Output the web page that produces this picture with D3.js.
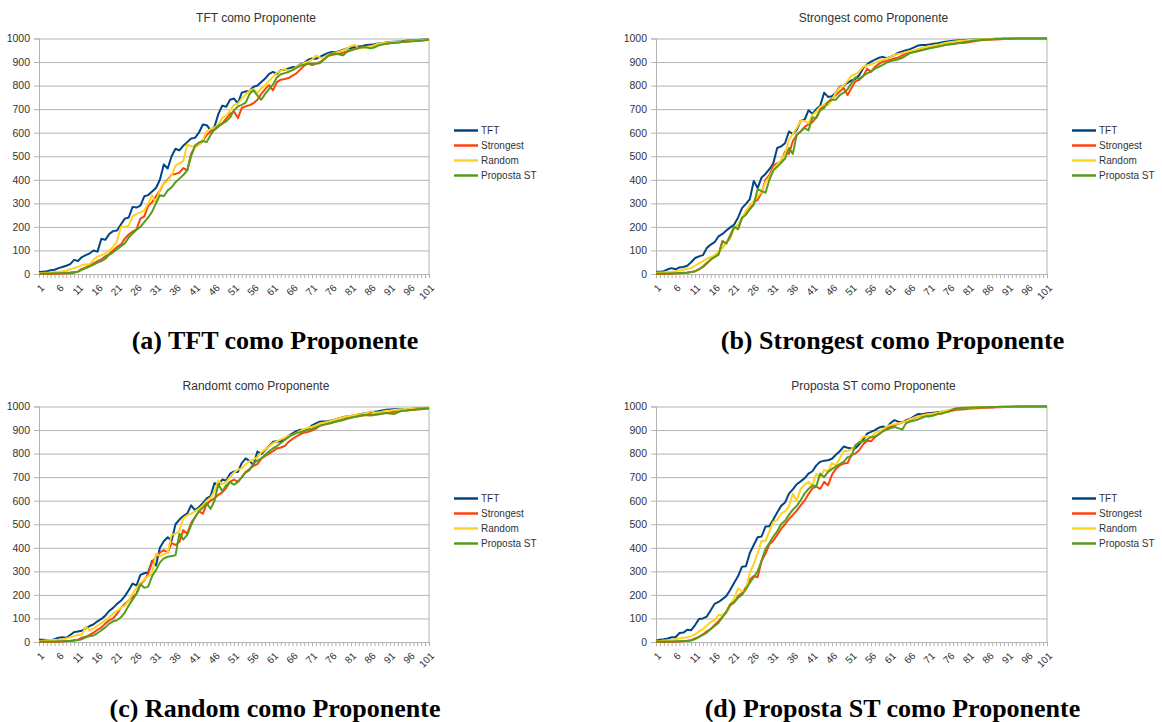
<!DOCTYPE html>
<html>
<head>
<meta charset="utf-8">
<script src="https://cdn.jsdelivr.net/npm/d3@7"></script>
<style>
  body { margin: 0; background: #fff; }
  svg { display: block; }
</style>
</head>
<body>
<svg id="chart" width="1162" height="722"></svg>
<script>
// Rounds on the category axis and the labels shown on it
const rounds = d3.range(1, 102);
const tickRounds = [1, 6, 11, 16, 21, 26, 31, 36, 41, 46, 51, 56, 61, 66, 71, 76, 81, 86, 91, 96, 101];
const yTicks = [0, 100, 200, 300, 400, 500, 600, 700, 800, 900, 1000];

const seriesNames = ["TFT", "Strongest", "Random", "Proposta ST"];
const seriesColors = ["#004586", "#ff420e", "#ffd320", "#579d1c"];

const panelTitles = ["TFT como Proponente", "Strongest como Proponente", "Randomt como Proponente", "Proposta ST como Proponente"];
const panelCaptions = ["(a) TFT como Proponente", "(b) Strongest como Proponente", "(c) Random como Proponente", "(d) Proposta ST como Proponente"];

// (a) TFT como Proponente
const tftProp_TFT = [8,10,12,16,18,25,30,35,42,60, 55,72,80,88,100,95,150,145,170,182, 185,210,235,240,285,282,290,330,335,350, 365,400,465,448,500,532,525,545,560,575, 578,600,635,632,610,625,680,715,710,740,
  745,725,770,775,778,795,800,815,830,850, 858,850,865,868,873,878,880,890,896,910, 915,914,922,930,938,943,942,946,952,958, 960,964,966,968,972,974,976,979,980,983, 985,986,987,988,990,991,992,994,995,996, 996];
const tftProp_Strongest = [0,0,0,0,1,1,2,2,3,5, 10,22,28,38,45,55,62,75,85,100, 115,125,150,168,180,190,235,245,290,305, 330,355,385,400,422,425,430,450,440,510, 540,550,565,590,605,612,625,640,660,680,
  690,662,705,712,717,725,740,765,785,802, 780,815,825,828,832,842,852,868,885,894, 887,893,900,910,925,930,933,936,940,945, 950,956,960,962,965,967,969,972,975,978, 981,982,983,985,986,988,990,992,993,995, 996];
const tftProp_Random = [3,4,5,6,8,10,12,15,20,25, 30,38,40,42,60,75,80,88,100,115, 140,200,200,205,245,255,262,270,300,335, 300,360,385,395,420,460,470,480,550,542, 540,550,570,605,615,622,635,665,670,695,
  718,724,745,762,780,785,768,788,800,820, 837,855,862,873,860,868,880,888,895,902, 910,928,920,915,930,936,940,944,950,958, 968,972,958,960,964,966,972,978,980,982, 984,986,986,986,987,988,990,992,993,995, 996];
const tftProp_PropostaST = [2,2,2,2,3,3,4,5,6,8, 10,18,25,32,40,48,55,65,82,92, 105,118,130,155,172,188,200,220,240,265, 300,335,330,355,368,390,405,420,440,500, 545,558,565,560,590,615,630,638,648,665,
  695,712,718,728,765,780,758,740,765,785, 805,835,848,853,858,866,875,884,889,894, 893,894,895,910,925,936,936,932,929,945, 950,955,960,964,962,958,962,970,974,978, 980,982,983,985,986,987,988,989,990,993, 996];

// (b) Strongest como Proponente
const strongProp_TFT = [10,10,12,20,25,20,28,30,35,50, 68,75,80,110,125,135,160,170,185,198, 210,240,280,298,318,395,365,410,425,445, 470,535,542,555,605,595,612,650,655,695, 680,700,715,770,752,755,770,795,800,812,
  822,828,845,875,890,902,910,918,922,916, 922,930,940,945,950,955,962,970,972,972, 975,978,980,983,986,988,990,992,993,994, 995,996,996,997,997,998,998,999,999,1000, 1000,1000,1000,1000,1000,1000,1000,1000,1000,1000, 1000];
const strongProp_Strongest = [0,0,0,0,1,2,3,4,5,8, 12,20,30,45,60,78,85,140,130,165, 200,190,240,255,285,305,315,345,400,420, 460,470,478,520,510,565,590,605,625,635, 645,665,700,715,730,745,760,775,790,760,
  790,818,825,840,872,858,880,892,902,905, 910,915,920,928,936,940,944,948,952,957, 960,965,970,972,974,976,978,980,981,982, 984,987,990,993,994,995,996,996,997,998, 998,999,999,999,1000,1000,1000,1000,1000,1000, 1000];
const strongProp_Random = [5,6,7,9,10,12,15,18,22,25, 35,45,55,65,72,80,95,110,135,150, 195,210,240,268,290,310,330,350,390,412, 445,465,485,510,570,595,620,650,650,640, 675,690,710,720,716,740,770,792,800,820,
  842,848,860,880,886,890,896,905,910,915, 922,930,934,938,943,947,950,956,960,964, 967,970,973,977,981,984,986,988,990,992, 994,996,996,997,997,998,998,999,999,1000, 1000,1000,1000,1000,1000,1000,1000,1000,1000,1000, 1000];
const strongProp_PropostaST = [2,2,2,2,3,3,4,5,6,8, 12,20,32,48,62,72,82,138,130,160, 200,192,238,252,275,295,360,352,345,400, 440,455,472,490,535,510,592,605,620,610, 665,662,695,705,730,740,740,760,770,785,
  810,835,830,842,852,860,872,880,888,898, 904,908,912,918,928,938,943,946,950,954, 958,962,965,968,972,975,977,980,982,985, 987,990,992,994,995,996,997,998,998,999, 999,999,1000,1000,1000,1000,1000,1000,1000,1000, 1000];

// (c) Random como Proponente
const randProp_TFT = [10,10,9,8,12,18,20,18,30,42, 45,48,58,68,75,88,98,112,132,145, 162,175,195,220,248,240,285,292,295,345, 325,400,428,445,430,500,520,535,545,580, 560,572,590,610,620,675,665,690,685,715,
  724,722,760,780,768,752,809,798,815,832, 850,852,851,865,875,886,895,901,900,905, 920,928,936,936,937,941,945,950,955,958, 960,963,966,969,972,975,978,980,983,986, 987,988,988,987,986,988,990,992,993,993, 993];
const randProp_Strongest = [0,0,0,0,0,1,2,3,5,8, 10,18,22,30,40,52,62,78,92,100, 120,145,162,175,192,205,245,262,290,340, 360,380,390,380,420,412,425,475,460,505, 530,555,545,585,600,610,625,635,655,680,
  690,680,700,722,735,748,755,778,790,800, 810,822,826,832,850,862,873,882,889,892, 898,906,918,924,929,932,936,940,945,950, 953,956,959,962,965,966,967,969,970,972, 975,978,980,982,983,984,986,987,988,990, 993];
const randProp_Random = [3,5,7,8,9,10,12,15,20,25, 30,32,65,50,58,70,80,92,105,120, 132,145,155,175,205,230,250,265,280,290, 375,365,372,380,455,460,472,525,538,545, 555,565,580,600,612,640,685,670,680,700,
  720,732,738,755,768,775,785,805,818,830, 844,852,860,868,875,880,888,896,904,910, 914,920,928,931,934,940,945,950,954,958, 961,964,966,968,972,980,975,974,978,982, 983,985,986,987,988,989,990,992,993,995, 996];
const randProp_PropostaST = [2,2,2,2,2,3,3,4,4,5, 8,12,20,25,28,38,50,62,78,88, 92,105,125,155,180,205,245,230,235,280, 305,338,355,362,365,368,460,435,455,495, 530,555,570,590,565,600,670,640,665,680,
  668,680,700,720,730,760,770,780,795,810, 822,832,845,858,870,880,887,891,895,900, 905,911,918,922,926,930,935,938,943,948, 952,956,960,964,963,962,964,966,970,972, 970,968,975,982,983,985,986,988,990,993, 993];

// (d) Proposta ST como Proponente
const pstProp_TFT = [5,10,12,15,20,20,38,40,52,50, 72,98,100,108,135,162,170,182,195,222, 252,280,320,322,378,412,445,448,490,492, 520,550,578,592,630,648,670,682,695,715, 725,750,765,770,772,778,795,810,830,825,
  822,823,840,860,885,892,900,910,915,910, 930,942,935,932,942,948,958,968,967,970, 972,974,976,978,980,982,986,992,993,993, 994,995,995,996,996,997,997,998,998,998, 999,999,999,1000,1000,1000,1000,1000,1000,1000, 1000];
const pstProp_Strongest = [0,0,0,0,0,1,2,3,5,8, 15,22,32,45,55,72,88,108,125,155, 168,195,208,232,265,280,275,345,375,415, 430,455,480,500,522,540,558,580,600,628, 652,660,650,680,665,710,735,750,758,760,
  795,800,815,840,855,852,870,882,895,908, 915,920,926,933,938,943,950,958,960,963, 965,967,968,970,975,980,983,986,987,988, 990,991,993,994,995,996,996,997,997,998, 998,998,999,999,1000,1000,1000,1000,1000,1000, 1000];
const pstProp_Random = [3,4,6,7,9,12,15,18,20,25, 32,45,55,70,85,92,115,115,128,160, 185,228,215,222,295,330,378,430,428,470, 510,518,545,555,575,630,600,650,668,680, 665,715,700,730,725,760,750,780,810,812,
  818,835,850,872,875,870,887,894,902,915, 922,925,928,932,938,946,952,958,962,966, 968,970,973,978,982,985,989,993,994,995, 996,996,997,997,997,998,998,998,999,999, 999,999,1000,1000,1000,1000,1000,1000,1000,1000, 1000];
const pstProp_PropostaST = [2,2,2,2,2,3,3,4,4,6, 12,22,30,40,55,68,82,105,130,160, 170,188,200,225,252,275,300,345,395,420, 448,470,500,515,540,562,578,602,630,650, 665,662,715,700,722,735,745,755,765,785,
  790,835,848,852,860,870,873,882,895,902, 908,913,908,902,930,936,940,945,952,958, 958,962,968,970,975,980,988,993,994,995, 995,996,996,997,997,998,998,998,999,999, 999,999,1000,1000,1000,1000,1000,1000,1000,1000, 1000];

const panelSeries = [
  [tftProp_TFT, tftProp_Strongest, tftProp_Random, tftProp_PropostaST],
  [strongProp_TFT, strongProp_Strongest, strongProp_Random, strongProp_PropostaST],
  [randProp_TFT, randProp_Strongest, randProp_Random, randProp_PropostaST],
  [pstProp_TFT, pstProp_Strongest, pstProp_Random, pstProp_PropostaST]
];

// Plot-area frames for the 2x2 grid
const frames = [
  { left: 39,  right: 429,  top: 38.5,  bottom: 274 },
  { left: 656, right: 1047, top: 38.5,  bottom: 274 },
  { left: 39,  right: 429,  top: 406.5, bottom: 642 },
  { left: 656, right: 1047, top: 406.5, bottom: 642 }
];

const svg = d3.select("#chart");
const sans = "'Liberation Sans', Arial, sans-serif";
const textColor = "#333333";
const gridColor = "#b3b3b3";

frames.forEach((f, p) => {
  const g = svg.append("g");
  const x = d3.scalePoint().domain(rounds).range([f.left, f.right]);
  const y = d3.scaleLinear().domain([0, 1000]).range([f.bottom, f.top]);

  // horizontal grid
  g.append("g")
    .attr("transform", `translate(${f.left},0)`)
    .call(d3.axisLeft(y).tickValues(yTicks).tickSize(-(f.right - f.left)).tickFormat(""))
    .call(s => s.select(".domain").remove())
    .call(s => s.selectAll("line").attr("stroke", gridColor).attr("stroke-width", 1));

  // right frame edge
  g.append("line")
    .attr("x1", f.right).attr("x2", f.right)
    .attr("y1", y(1000)).attr("y2", y(0))
    .attr("stroke", gridColor);

  // y axis
  g.append("g")
    .attr("transform", `translate(${f.left},0)`)
    .call(d3.axisLeft(y).tickValues(yTicks).tickSize(5).tickPadding(4).tickFormat(d3.format("d")))
    .call(s => s.select(".domain").attr("stroke", gridColor))
    .call(s => s.selectAll(".tick line").attr("stroke", gridColor))
    .call(s => s.selectAll("text").attr("fill", textColor)
      .style("font-family", sans).style("font-size", "10.5px"));

  // x axis: a tick on every round, a label on every fifth
  g.append("g")
    .attr("transform", `translate(0,${f.bottom})`)
    .call(d3.axisBottom(x).tickValues(rounds).tickSize(4)
      .tickFormat(d => tickRounds.includes(d) ? String(d) : ""))
    .call(s => s.select(".domain").attr("stroke", gridColor))
    .call(s => s.selectAll(".tick line").attr("stroke", gridColor))
    .call(s => s.selectAll("text")
      .attr("fill", textColor)
      .style("font-family", sans).style("font-size", "10px")
      .attr("text-anchor", "end")
      .attr("y", 0).attr("dy", "0.35em")
      .attr("transform", "translate(3,12) rotate(-45)"));

  // series lines
  const line = d3.line().x((d, i) => x(rounds[i])).y(d => y(d));
  panelSeries[p].forEach((vals, k) => {
    g.append("path")
      .datum(vals)
      .attr("fill", "none")
      .attr("stroke", seriesColors[k])
      .attr("stroke-width", 2)
      .attr("stroke-linejoin", "round")
      .attr("d", line);
  });

  // chart title
  g.append("text")
    .attr("x", (f.left + f.right) / 2 + 22)
    .attr("y", f.top - 17)
    .attr("text-anchor", "middle")
    .attr("fill", textColor)
    .style("font-family", sans).style("font-size", "12px")
    .text(panelTitles[p]);

  // legend
  const lg = g.append("g").attr("transform", `translate(${f.right + 25},${f.top + 92})`);
  seriesNames.forEach((name, k) => {
    const row = lg.append("g").attr("transform", `translate(0,${k * 15})`);
    row.append("line").attr("x1", 0).attr("x2", 24).attr("y1", 0).attr("y2", 0)
      .attr("stroke", seriesColors[k]).attr("stroke-width", 2.5);
    row.append("text").attr("x", 27).attr("y", 0).attr("dy", "0.35em")
      .attr("fill", textColor)
      .style("font-family", sans).style("font-size", "10px")
      .text(name);
  });

  // sub-figure caption
  g.append("text")
    .attr("x", (f.left + f.right) / 2 + 41)
    .attr("y", f.bottom + 75)
    .attr("text-anchor", "middle")
    .attr("fill", "#000")
    .style("font-family", "'Liberation Serif', 'Times New Roman', serif")
    .style("font-weight", "bold")
    .style("font-size", "26px")
    .text(panelCaptions[p]);
});
</script>
</body>
</html>
